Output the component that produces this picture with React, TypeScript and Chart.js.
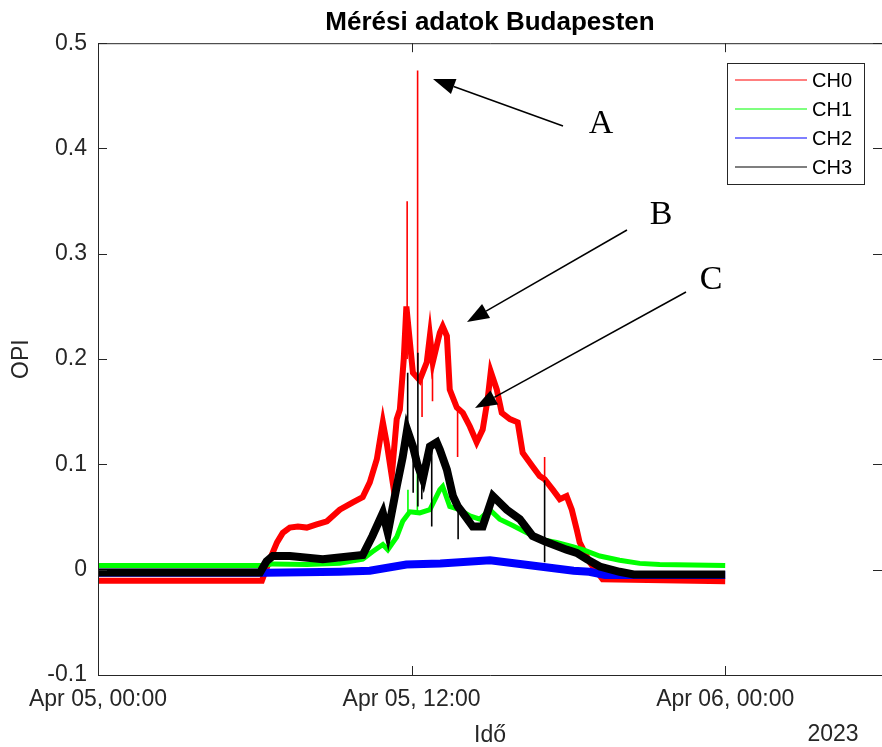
import React, { useEffect, useRef } from "react";
import { Chart, registerables } from "chart.js";

Chart.register(...registerables);

const chartTitle = "Mérési adatok Budapesten";
const xAxisLabel = "Idő";
const yAxisLabel = "OPI";
const yearLabel = "2023";
const seriesNames = ["CH0", "CH1", "CH2", "CH3"];
const seriesColors = ["#ff0000", "#00ff00", "#0000ff", "#000000"];
const annotationLetters = ["A", "B", "C"];

const xTickHours = [0, 12, 24];
const xTickLabels = ["Apr 05, 00:00", "Apr 05, 12:00", "Apr 06, 00:00"];
const yTickValues = [-0.1, 0, 0.1, 0.2, 0.3, 0.4, 0.5];
const yTickLabels = ["-0.1", "0", "0.1", "0.2", "0.3", "0.4", "0.5"];

// CH0 (hours since Apr 05 00:00, OPI)
const ch0Hours = [0, 6.27, 6.58, 6.85, 7.07, 7.34, 7.65, 7.99, 8.37, 8.76, 9.25, 9.75, 10.13, 10.4, 10.67, 10.9, 11.05, 11.24, 11.43, 11.55, 11.7, 11.8, 12.05, 12.31, 12.58, 12.7, 12.81, 13.08, 13.19, 13.35, 13.46, 13.73, 13.96, 14.23, 14.49, 14.72, 14.91, 15.03, 15.26, 15.45, 15.76, 16.06, 16.25, 16.63, 16.9, 17.09, 17.4, 17.67, 17.93, 18.13, 18.32, 18.43, 18.82, 19.31, 24];
const ch0Values = [-0.0106, -0.0106, 0.01, 0.026, 0.035, 0.04, 0.041, 0.04, 0.043, 0.046, 0.057, 0.064, 0.069, 0.083, 0.105, 0.14, 0.12, 0.089, 0.143, 0.152, 0.2, 0.25, 0.187, 0.18, 0.197, 0.222, 0.197, 0.225, 0.231, 0.222, 0.171, 0.154, 0.149, 0.136, 0.121, 0.133, 0.162, 0.188, 0.171, 0.149, 0.143, 0.14, 0.111, 0.098, 0.089, 0.086, 0.076, 0.067, 0.07, 0.057, 0.038, 0.026, 0.007, -0.009, -0.011];
const ch0SpikeHours = [11.83, 12.23, 12.4, 12.8, 13.76, 17.09];
const ch0SpikeLow = [0.2, 0.18, 0.145, 0.16, 0.107, 0.086];
const ch0SpikeHigh = [0.35, 0.474, 0.19, 0.2, 0.154, 0.107];

// CH1
const ch1Hours = [0, 6.35, 6.69, 8.0, 9.25, 10.13, 10.5, 10.9, 11.09, 11.43, 11.66, 11.93, 12.31, 12.7, 13.08, 13.19, 13.46, 13.84, 14.23, 14.61, 14.99, 15.37, 15.87, 16.41, 16.9, 17.55, 18.16, 18.55, 19.2, 19.96, 20.73, 21.49, 24];
const ch1Values = [0.004, 0.004, 0.0055, 0.005, 0.006, 0.01, 0.017, 0.024, 0.019, 0.031, 0.046, 0.055, 0.054, 0.057, 0.076, 0.079, 0.06, 0.057, 0.051, 0.048, 0.057, 0.048, 0.042, 0.035, 0.029, 0.026, 0.022, 0.019, 0.013, 0.009, 0.006, 0.005, 0.004];
const ch1SpikeHours = [11.86, 12.22];
const ch1SpikeLow = [0.054, 0.054];
const ch1SpikeHigh = [0.076, 0.107];

// CH2
const ch2Hours = [0, 6.4, 9.25, 10.4, 11.8, 13.1, 15.0, 16.3, 18.2, 18.8, 19.4, 24];
const ch2Values = [-0.003, -0.003, -0.002, -0.001, 0.005, 0.006, 0.009, 0.005, -0.001, -0.002, -0.005, -0.005];

// CH3
const ch3Hours = [0, 6.2, 6.45, 6.69, 7.34, 8.6, 10.13, 10.5, 10.9, 11.09, 11.43, 11.66, 11.83, 12.05, 12.22, 12.43, 12.7, 12.96, 13.08, 13.35, 13.58, 13.77, 13.96, 14.34, 14.72, 15.11, 15.64, 16.14, 16.63, 17.09, 17.93, 18.32, 18.7, 19.2, 19.96, 20.5, 24];
const ch3Values = [-0.0026, -0.0026, 0.008, 0.013, 0.013, 0.01, 0.014, 0.032, 0.054, 0.035, 0.079, 0.107, 0.133, 0.117, 0.1, 0.086, 0.117, 0.121, 0.114, 0.095, 0.07, 0.06, 0.054, 0.041, 0.041, 0.07, 0.057, 0.048, 0.032, 0.027, 0.019, 0.016, 0.01, 0.003, -0.002, -0.0045, -0.0045];
const ch3SpikeHours = [11.85, 12.06, 12.24, 12.39, 12.77, 13.78, 17.09];
const ch3SpikeLow = [0.12, 0.073, 0.06, 0.067, 0.041, 0.029, 0.007];
const ch3SpikeHigh = [0.187, 0.117, 0.206, 0.09, 0.117, 0.06, 0.085];

const FONT = "'Liberation Sans', Arial, Helvetica, sans-serif";
const AXIS_COLOR = "#262626";

function toPoints(hours: number[], values: number[]) {
  return hours.map((h, i) => ({ x: h, y: values[i] }));
}

function toSpikes(hours: number[], low: number[], high: number[]) {
  const pts: { x: number; y: number | null }[] = [];
  hours.forEach((h, i) => {
    pts.push({ x: h, y: low[i] });
    pts.push({ x: h, y: high[i] });
    pts.push({ x: h, y: null });
  });
  return pts;
}

const decorPlugin = {
  id: "matlabDecor",
  afterDraw(chart: any) {
    const { ctx, chartArea, scales } = chart;
    const { left, right, top, bottom } = chartArea;
    ctx.save();
    ctx.strokeStyle = AXIS_COLOR;
    ctx.lineWidth = 1;
    ctx.beginPath();
    ctx.moveTo(right, top + 0.5);
    ctx.lineTo(left + 0.5, top + 0.5);
    ctx.lineTo(left + 0.5, bottom + 0.5);
    ctx.lineTo(right, bottom + 0.5);
    ctx.stroke();
    ctx.beginPath();
    xTickHours.forEach((h) => {
      const px = Math.round(scales.x.getPixelForValue(h)) + 0.5;
      ctx.moveTo(px, bottom);
      ctx.lineTo(px, bottom - 9);
      ctx.moveTo(px, top);
      ctx.lineTo(px, top + 9);
    });
    yTickValues.forEach((v) => {
      const py = Math.round(scales.y.getPixelForValue(v)) + 0.5;
      ctx.moveTo(left, py);
      ctx.lineTo(left + 9, py);
      ctx.moveTo(right, py);
      ctx.lineTo(right - 9, py);
    });
    ctx.stroke();

    ctx.fillStyle = AXIS_COLOR;
    ctx.font = `23px ${FONT}`;
    ctx.textAlign = "center";
    ctx.textBaseline = "middle";
    ctx.fillText(yearLabel, 833, 735);

    const lx = 727.5, ly = 63.5, lw = 137, lh = 121;
    ctx.fillStyle = "#ffffff";
    ctx.fillRect(lx, ly, lw, lh);
    ctx.strokeStyle = AXIS_COLOR;
    ctx.lineWidth = 1;
    ctx.strokeRect(lx, ly, lw, lh);
    ctx.font = `20px ${FONT}`;
    ctx.textAlign = "left";
    seriesNames.forEach((name, i) => {
      const y = 80 + i * 29;
      ctx.strokeStyle = seriesColors[i];
      ctx.lineWidth = 1.2;
      ctx.beginPath();
      ctx.moveTo(735, y);
      ctx.lineTo(807, y);
      ctx.stroke();
      ctx.fillStyle = "#000000";
      ctx.fillText(name, 812, y + 1);
    });

    const arrows = [
      { tail: [563, 126], tip: [433, 79], text: [601, 124] },
      { tail: [627, 230], tip: [467, 322], text: [661, 215] },
      { tail: [686, 292], tip: [475, 408], text: [711, 280] },
    ];
    ctx.fillStyle = "#000000";
    ctx.strokeStyle = "#000000";
    arrows.forEach((a, i) => {
      const [tx, ty] = a.tail;
      const [hx, hy] = a.tip;
      const ang = Math.atan2(hy - ty, hx - tx);
      const hl = 22, hw = 8;
      const bx = hx - hl * Math.cos(ang);
      const by = hy - hl * Math.sin(ang);
      ctx.lineWidth = 1.5;
      ctx.beginPath();
      ctx.moveTo(tx, ty);
      ctx.lineTo(bx, by);
      ctx.stroke();
      ctx.beginPath();
      ctx.moveTo(hx, hy);
      ctx.lineTo(bx + hw * Math.sin(ang), by - hw * Math.cos(ang));
      ctx.lineTo(bx - hw * Math.sin(ang), by + hw * Math.cos(ang));
      ctx.closePath();
      ctx.fill();
      ctx.font = `34px 'Liberation Serif', 'Times New Roman', serif`;
      ctx.textAlign = "center";
      ctx.textBaseline = "middle";
      ctx.fillText(annotationLetters[i], a.text[0], a.text[1]);
    });
    ctx.restore();
  },
};

export default function App() {
  const canvasRef = useRef<HTMLCanvasElement | null>(null);

  useEffect(() => {
    if (!canvasRef.current) return;
    const lineDs = (label: string, data: any[], color: string, width: number, order: number) => ({
      label,
      data,
      borderColor: color,
      backgroundColor: color,
      borderWidth: width,
      pointRadius: 0,
      tension: 0,
      fill: false,
      spanGaps: false,
      order,
    });
    const chart = new Chart(canvasRef.current, {
      type: "line",
      data: {
        datasets: [
          lineDs(seriesNames[0], toPoints(ch0Hours, ch0Values), seriesColors[0], 6, 8),
          lineDs(seriesNames[0] + " spikes", toSpikes(ch0SpikeHours, ch0SpikeLow, ch0SpikeHigh), seriesColors[0], 1.6, 7),
          lineDs(seriesNames[1], toPoints(ch1Hours, ch1Values), seriesColors[1], 5, 6),
          lineDs(seriesNames[1] + " spikes", toSpikes(ch1SpikeHours, ch1SpikeLow, ch1SpikeHigh), seriesColors[1], 1.6, 5),
          lineDs(seriesNames[2], toPoints(ch2Hours, ch2Values), seriesColors[2], 8, 4),
          lineDs(seriesNames[3], toPoints(ch3Hours, ch3Values), seriesColors[3], 8, 2),
          lineDs(seriesNames[3] + " spikes", toSpikes(ch3SpikeHours, ch3SpikeLow, ch3SpikeHigh), seriesColors[3], 1.6, 1),
        ],
      },
      options: {
        animation: false,
        responsive: false,
        devicePixelRatio: 1,
        layout: { padding: 0 },
        plugins: {
          legend: { display: false },
          tooltip: { enabled: false },
          title: {
            display: true,
            text: chartTitle,
            fullSize: false,
            color: "#000000",
            font: { family: FONT, size: 26, weight: "bold", lineHeight: 1.2 },
            padding: { top: 7, bottom: 5 },
          },
        },
        scales: {
          x: {
            type: "linear",
            min: 0,
            max: 30,
            afterBuildTicks: (scale: any) => {
              scale.ticks = xTickHours.map((v) => ({ value: v }));
            },
            afterFit: (scale: any) => {
              scale.height = 72;
            },
            grid: { display: false, drawTicks: false },
            border: { display: false },
            ticks: {
              autoSkip: false,
              maxRotation: 0,
              padding: 11,
              color: AXIS_COLOR,
              font: { family: FONT, size: 23 },
              callback: (value: any) => {
                const i = xTickHours.findIndex((h) => Math.abs(h - Number(value)) < 1e-9);
                return i >= 0 ? xTickLabels[i] : "";
              },
            },
            title: {
              display: true,
              text: xAxisLabel,
              color: AXIS_COLOR,
              font: { family: FONT, size: 23, lineHeight: 0.6 },
              padding: { top: 0, bottom: 4 },
            },
          },
          y: {
            type: "linear",
            min: -0.1,
            max: 0.5,
            afterBuildTicks: (scale: any) => {
              scale.ticks = yTickValues.map((v) => ({ value: v }));
            },
            afterFit: (scale: any) => {
              scale.width = 98;
            },
            grid: { display: false, drawTicks: false },
            border: { display: false },
            ticks: {
              autoSkip: false,
              padding: 11,
              color: AXIS_COLOR,
              font: { family: FONT, size: 23 },
              callback: (value: any) => {
                const i = yTickValues.findIndex((v) => Math.abs(v - Number(value)) < 1e-9);
                return i >= 0 ? yTickLabels[i] : "";
              },
            },
            title: {
              display: true,
              text: yAxisLabel,
              color: AXIS_COLOR,
              font: { family: FONT, size: 23, lineHeight: 1.2 },
              padding: { top: 8, bottom: 0 },
            },
          },
        },
      },
      plugins: [decorPlugin],
    } as any);
    return () => chart.destroy();
  }, []);

  return (
    <div style={{ position: "fixed", left: 0, top: 0, width: 882, height: 747, background: "#ffffff" }}>
      <canvas ref={canvasRef} width={882} height={747} style={{ display: "block" }} />
    </div>
  );
}
